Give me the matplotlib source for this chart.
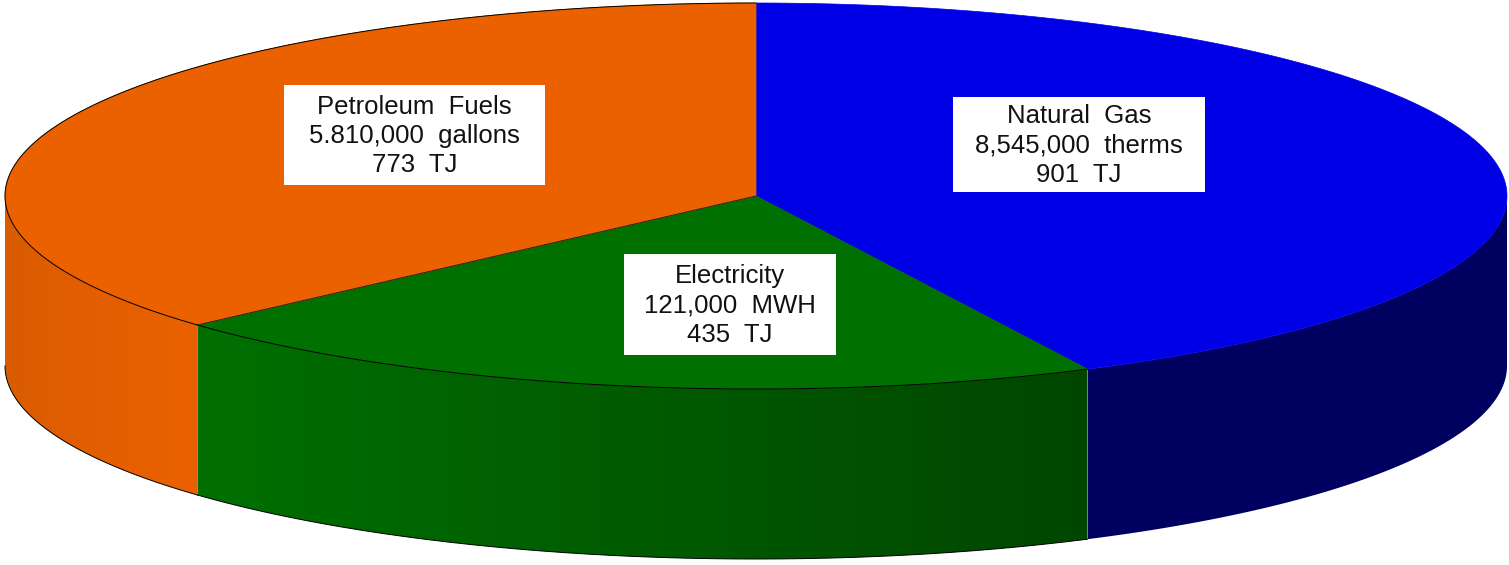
import numpy as np
import matplotlib.pyplot as plt
from matplotlib.patches import Polygon, Rectangle
from matplotlib.colors import to_rgb

plt.rcParams['font.family'] = ['Liberation Sans', 'DejaVu Sans']

# data
labels = ['Natural  Gas', 'Electricity', 'Petroleum  Fuels']
amounts = ['8,545,000  therms', '121,000  MWH', '5.810,000  gallons']
tj = [901, 435, 773]

top_colors = ['#0000E6', '#007000', '#EB6100']
side_left = ['#000060', '#007000', '#DA5C00']
side_right = ['#000060', '#004600', '#EB6100']
outlined = [False, True, True]

# label boxes (x, y, w, h) in pixels
boxes = [(953, 97, 252, 95), (624, 254, 212, 101), (284, 85, 261, 100)]

# pie geometry in pixels
cx, cy, a, b, h = 756, 196, 751, 193, 170


def arc(t1, t2, n=200):
    t = np.radians(np.linspace(t1, t2, n))
    return cx + a * np.cos(t), cy - b * np.sin(t)


fig = plt.figure(figsize=(15.09, 5.65), dpi=100)
ax = fig.add_axes([0, 0, 1, 1])
ax.set_xlim(0, 1509)
ax.set_ylim(565, 0)
ax.axis('off')

fracs = np.array(tj) / sum(tj)
starts = 90 - 360 * np.concatenate([[0], np.cumsum(fracs)[:-1]])
ends = starts - 360 * fracs

# side walls (front half only: angles between -180 and 0)
for i in range(len(tj)):
    s = min(starts[i], 0)
    e = max(ends[i], -180)
    if s <= e:
        continue
    x, y = arc(s, e)
    xs = np.concatenate([x, x[::-1]])
    ys = np.concatenate([y, (y + h)[::-1]])
    poly = Polygon(np.column_stack([xs, ys]), closed=True, fc='none', ec='none', zorder=2)
    ax.add_patch(poly)
    c0 = np.array(to_rgb(side_left[i]))
    c1 = np.array(to_rgb(side_right[i]))
    g = np.linspace(0, 1, 256)
    img = (c0[None, :] * (1 - g[:, None]) + c1[None, :] * g[:, None])[None, :, :]
    im = ax.imshow(img, extent=(xs.min(), xs.max(), ys.max(), ys.min()),
                   aspect='auto', zorder=1, interpolation='bilinear')
    im.set_clip_path(poly)
    if outlined[i]:
        ax.plot(x, y + h, color='black', lw=0.7, zorder=3)

# top faces
for i in range(len(tj)):
    x, y = arc(starts[i], ends[i])
    pts = np.column_stack([np.r_[cx, x], np.r_[cy, y]])
    ax.add_patch(Polygon(pts, closed=True, fc=top_colors[i], ec=top_colors[i],
                         lw=0.5, zorder=3))
    if outlined[i]:
        ax.plot(x, y, color='black', lw=0.7, zorder=4)

# edge between electricity and petroleum tops
ex, ey = arc(ends[1], ends[1], 1)
ax.plot([cx, ex[0]], [cy, ey[0]], color='#222222', lw=0.7, zorder=4)

# labels
for i in range(len(tj)):
    bx, by, bw, bh = boxes[i]
    ax.add_patch(Rectangle((bx, by), bw, bh, fc='white', ec='none', zorder=5))
    ax.text(bx + bw / 2, by + bh / 2 + 1, f'{labels[i]}\n{amounts[i]}\n{tj[i]}  TJ',
            ha='center', va='center', fontsize=18.5, linespacing=1.27,
            color='#111111', zorder=6)

fig.savefig('out.png', dpi=100)
